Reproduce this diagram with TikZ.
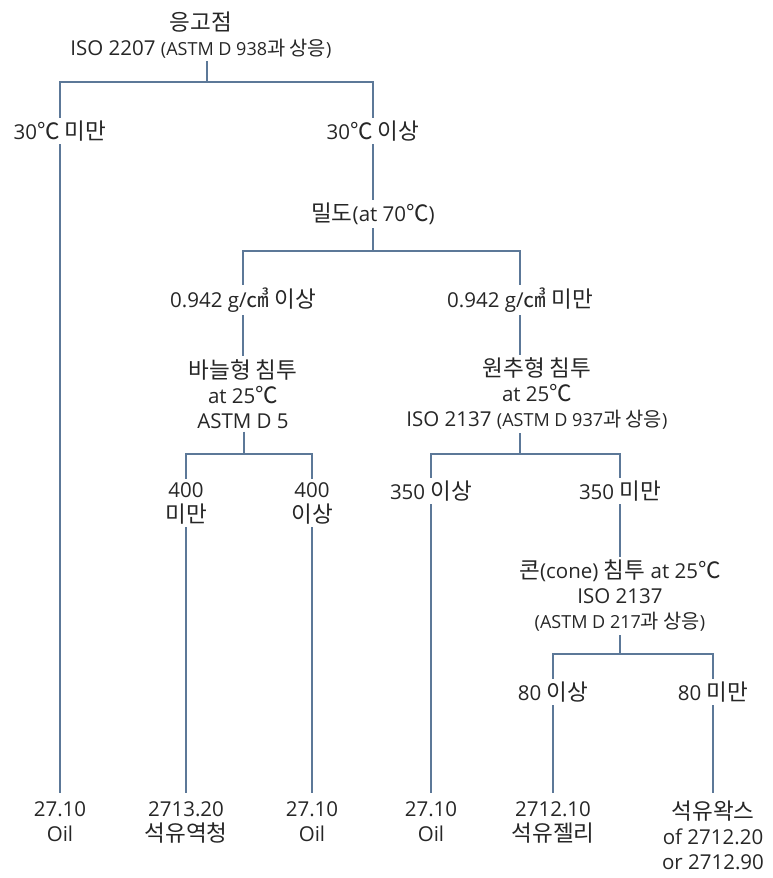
\documentclass[tikz,border=0pt]{standalone}
\usepackage{fontspec}
\setmainfont{Open Sans}
\newfontfamily\krfont[Scale=1.1]{Noto Sans CJK KR}
\newcommand\kr[1]{{\krfont #1}}
\definecolor{treeline}{RGB}{92,120,152}
\definecolor{treetext}{RGB}{38,38,38}
\newcommand\smtxt{\fontsize{18}{25}\selectfont}
\begin{document}
\begin{tikzpicture}[x=1pt,y=-1pt,
    lbl/.style={align=center,text=treetext,inner sep=3pt,
      font=\fontsize{20.5}{25}\selectfont},
    leaf/.style={lbl,anchor=north,inner ysep=8pt},
    conn/.style={draw=treeline,line width=1.1pt}]
\useasboundingbox (0,0) rectangle (773,878);
% questions and answers
\node[lbl] (root) at (201,35) {\kr{응고점}\\ISO 2207 {\smtxt(ASTM D 938\kr{과 상응})}};
\node[lbl] (lt30) at (60,131) {30\kr{℃ 미만}};
\node[lbl] (ge30) at (373,131) {30\kr{℃ 이상}};
\node[lbl] (dens) at (373,214) {\kr{밀도}(at 70\kr{℃})};
\node[lbl] (dhi) at (243,300) {0.942 g/\kr{㎤ 이상}};
\node[lbl] (dlo) at (520,300) {0.942 g/\kr{㎤ 미만}};
\node[lbl] (needle) at (243,394) {\kr{바늘형 침투}\\at 25\kr{℃}\\ASTM D 5};
\node[lbl] (conic) at (537,394) {\kr{원추형 침투}\\at 25\kr{℃}\\ISO 2137 {\smtxt(ASTM D 937\kr{과 상응})}};
\node[lbl] (n400lo) at (186,503) {400\\\kr{미만}};
\node[lbl] (n400hi) at (312,503) {400\\\kr{이상}};
\node[lbl] (p350hi) at (431,491) {350 \kr{이상}};
\node[lbl] (p350lo) at (620,491) {350 \kr{미만}};
\node[lbl] (conepen) at (620,596) {\kr{콘}(cone) \kr{침투} at 25\kr{℃}\\ISO 2137\\{\smtxt(ASTM D 217\kr{과 상응})}};
\node[lbl] (c80hi) at (553,692) {80 \kr{이상}};
\node[lbl] (c80lo) at (713,692) {80 \kr{미만}};
% codes
\node[leaf] (oil1) at (60,793) {27.10\\Oil};
\node[leaf] (asph) at (186,793) {2713.20\\\kr{석유역청}};
\node[leaf] (oil2) at (312,793) {27.10\\Oil};
\node[leaf] (oil3) at (431,793) {27.10\\Oil};
\node[leaf] (jelly) at (553,793) {2712.10\\\kr{석유젤리}};
\node[leaf] (wax) at (713,793) {\kr{석유왁스}\\of 2712.20\\or 2712.90};
% branch points
\coordinate (j0) at (207,82);
\coordinate (j1) at (373,251);
\coordinate (j2) at (244,454);
\coordinate (j3) at (520,454);
\coordinate (j4) at (620,654);
% tree
\draw[conn] (root.south -| j0) -- (j0);
\draw[conn] (lt30) |- (j0) -| (ge30);
\draw[conn] (lt30) -- (oil1);
\draw[conn] (ge30) -- (dens);
\draw[conn] (dens) -- (j1);
\draw[conn] (dhi) |- (j1) -| (dlo);
\draw[conn] (dhi) -- (needle);
\draw[conn] (dlo) -- (dlo |- conic.north);
\draw[conn] (needle.south -| j2) -- (j2);
\draw[conn] (n400lo) |- (j2) -| (n400hi);
\draw[conn] (n400lo) -- (asph);
\draw[conn] (n400hi) -- (oil2);
\draw[conn] (conic.south -| j3) -- (j3);
\draw[conn] (p350hi) |- (j3) -| (p350lo);
\draw[conn] (p350hi) -- (oil3);
\draw[conn] (p350lo) -- (conepen);
\draw[conn] (conepen) -- (j4);
\draw[conn] (c80hi) |- (j4) -| (c80lo);
\draw[conn] (c80hi) -- (jelly);
\draw[conn] (c80lo) -- (wax);
\end{tikzpicture}
\end{document}
